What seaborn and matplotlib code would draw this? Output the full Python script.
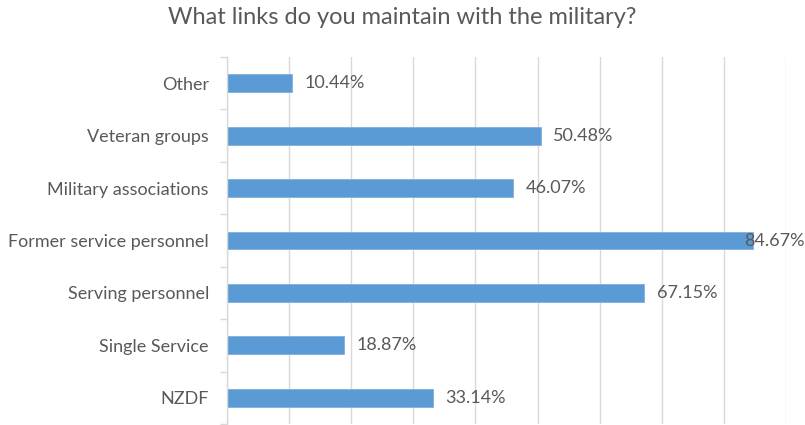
import matplotlib
matplotlib.use("Agg")
import matplotlib.pyplot as plt
import seaborn as sns
import pandas as pd
import numpy as np
from matplotlib.ticker import MultipleLocator, FixedLocator, NullFormatter

categories = ["Other", "Veteran groups", "Military associations", "Former service personnel",
              "Serving personnel", "Single Service", "NZDF"]
values = [10.44, 50.48, 46.07, 84.67, 67.15, 18.87, 33.14]
title = "What links do you maintain with the military?"

df = pd.DataFrame({"category": categories, "value": values})

sns.set_theme(style="white")
plt.rcParams['font.family'] = ['Lato', 'DejaVu Sans']

fig = plt.figure(figsize=(8.05, 4.25), dpi=100)
ax = fig.add_axes([227/805, 1/425, (786-227)/805, (424-57)/425])

sns.barplot(data=df, y="category", x="value", orient="h", color="#5B9BD5",
            saturation=1, width=0.34, ax=ax, edgecolor="#7fb0dd", linewidth=0.6)

ax.set_xlim(0, 90)
ax.set_ylim(len(categories) - 0.5, -0.5)
ax.xaxis.set_major_locator(MultipleLocator(10))
ax.xaxis.set_major_formatter(NullFormatter())
ax.tick_params(axis="x", length=0)
ax.grid(axis="x", color="#d9d9d9", linewidth=1)
ax.set_axisbelow(True)
for s in ["top", "right", "bottom"]:
    ax.spines[s].set_visible(False)
ax.spines["left"].set_color("#d9d9d9")
ax.spines["left"].set_linewidth(1)

ax.set_xlabel("")
ax.set_ylabel("")
ax.tick_params(axis="y", which="major", length=0, pad=13, labelsize=13, labelcolor="#595959")
ax.yaxis.set_minor_locator(FixedLocator(np.arange(-0.5, len(categories), 1.0)))
ax.tick_params(axis="y", which="minor", left=True, length=5, width=1, color="#d9d9d9", direction="out")

for i, v in enumerate(values):
    off = -6.5 if v > 80 else 9
    ax.annotate(f"{v:.2f}%", xy=(v, i), xytext=(off, 0), textcoords="offset points",
                va="center", ha="left", fontsize=13, color="#595959", clip_on=False,
                annotation_clip=False)

fig.suptitle(title, x=0.5, y=1 - 18/425, va="center", fontsize=17, color="#595959")

fig.savefig("out.png", dpi=100)
